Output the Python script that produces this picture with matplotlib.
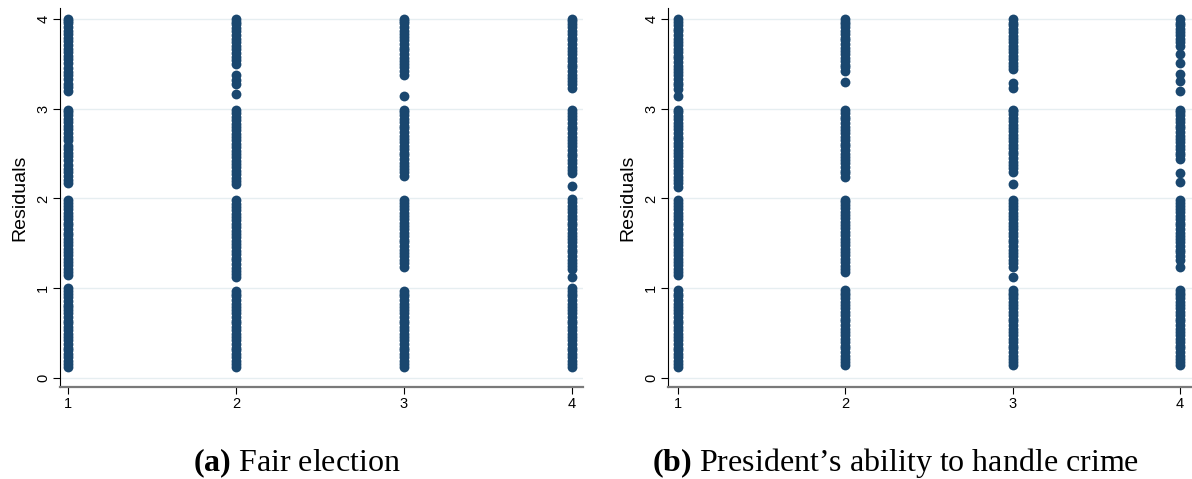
import matplotlib.pyplot as plt

plt.rcParams['font.family'] = ['Liberation Sans', 'DejaVu Sans']
plt.rcParams['mathtext.fontset'] = 'custom'
plt.rcParams['mathtext.rm'] = 'Liberation Serif'
plt.rcParams['mathtext.bf'] = 'Liberation Serif:bold'

categories = [1, 2, 3, 4]
yticks = [0, 1, 2, 3, 4]

# (a) Fair election: residuals by response category
fair_1 = [0.12, 0.16, 0.19, 0.23, 0.27, 0.31, 0.34, 0.38, 0.42, 0.46, 0.49, 0.53, 0.57, 0.61,
          0.64, 0.68, 0.72, 0.76, 0.79, 0.81, 0.86, 0.90, 0.94, 0.97, 1.00,
          1.15, 1.18, 1.22, 1.26, 1.29, 1.33, 1.37, 1.40, 1.44, 1.48, 1.51, 1.55, 1.59, 1.62,
          1.66, 1.70, 1.73, 1.77, 1.81, 1.84, 1.88, 1.92, 1.95, 1.98,
          2.17, 2.21, 2.25, 2.29, 2.33, 2.37, 2.43, 2.47, 2.51, 2.55, 2.59, 2.65, 2.69, 2.73,
          2.77, 2.81, 2.85, 2.89, 2.93, 2.96, 2.99,
          3.20, 3.24, 3.28, 3.33, 3.37, 3.41, 3.45, 3.51, 3.55, 3.59, 3.63, 3.67, 3.71, 3.75,
          3.79, 3.83, 3.87, 3.91, 3.95, 3.98, 4.00]
fair_2 = [0.12, 0.16, 0.19, 0.23, 0.27, 0.31, 0.34, 0.38, 0.42, 0.46, 0.49, 0.53, 0.57, 0.61,
          0.64, 0.68, 0.72, 0.76, 0.79, 0.83, 0.87, 0.91, 0.94, 0.97,
          1.12, 1.16, 1.19, 1.23, 1.27, 1.31, 1.34, 1.38, 1.42, 1.46, 1.49, 1.53, 1.57, 1.61,
          1.64, 1.68, 1.72, 1.76, 1.79, 1.83, 1.87, 1.91, 1.94, 1.98,
          2.16, 2.20, 2.23, 2.27, 2.31, 2.35, 2.38, 2.42, 2.46, 2.50, 2.53, 2.57, 2.61, 2.65,
          2.68, 2.72, 2.76, 2.80, 2.83, 2.87, 2.91, 2.95, 2.99,
          3.16, 3.28, 3.32, 3.37,
          3.50, 3.54, 3.58, 3.62, 3.66, 3.70, 3.74, 3.78, 3.82, 3.86, 3.90, 3.94, 3.97, 4.00]
fair_3 = [0.12, 0.16, 0.19, 0.23, 0.27, 0.31, 0.34, 0.38, 0.42, 0.46, 0.49, 0.53, 0.57, 0.61,
          0.64, 0.68, 0.72, 0.76, 0.79, 0.83, 0.87, 0.91, 0.94, 0.97,
          1.24, 1.28, 1.32, 1.36, 1.39, 1.43, 1.47, 1.51, 1.54, 1.58, 1.62, 1.66, 1.69, 1.73,
          1.77, 1.81, 1.84, 1.88, 1.92, 1.95, 1.98,
          2.25, 2.29, 2.33, 2.36, 2.40, 2.44, 2.48, 2.51, 2.55, 2.59, 2.63, 2.66, 2.70, 2.74,
          2.78, 2.81, 2.85, 2.89, 2.93, 2.96, 2.99,
          3.14,
          3.38, 3.42, 3.46, 3.50, 3.53, 3.57, 3.61, 3.65, 3.68, 3.72, 3.76, 3.80, 3.83, 3.87,
          3.91, 3.95, 3.98, 4.00]
fair_4 = [0.12, 0.16, 0.19, 0.23, 0.27, 0.31, 0.34, 0.38, 0.42, 0.46, 0.49, 0.53, 0.57, 0.61,
          0.64, 0.68, 0.72, 0.76, 0.79, 0.83, 0.87, 0.91, 0.94, 0.97, 1.00,
          1.12, 1.21, 1.25, 1.28, 1.32, 1.36, 1.40, 1.43, 1.47, 1.51, 1.55, 1.58, 1.62, 1.66,
          1.70, 1.73, 1.77, 1.81, 1.85, 1.88, 1.92, 1.96, 1.99,
          2.14, 2.28, 2.32, 2.35, 2.39, 2.43, 2.47, 2.50, 2.54, 2.58, 2.62, 2.65, 2.69, 2.73,
          2.77, 2.80, 2.84, 2.88, 2.92, 2.95, 2.99,
          3.23, 3.27, 3.31, 3.34, 3.38, 3.42, 3.46, 3.49, 3.53, 3.57, 3.61, 3.64, 3.68, 3.72,
          3.76, 3.79, 3.83, 3.87, 3.91, 3.94, 3.98, 4.00]

# (b) President's ability to handle crime
crime_1 = [0.12, 0.16, 0.19, 0.23, 0.27, 0.31, 0.34, 0.38, 0.42, 0.46, 0.49, 0.53, 0.57, 0.61,
           0.64, 0.68, 0.72, 0.76, 0.79, 0.83, 0.87, 0.91, 0.94, 0.98,
           1.15, 1.18, 1.22, 1.26, 1.29, 1.33, 1.37, 1.40, 1.44, 1.48, 1.51, 1.55, 1.59, 1.62,
           1.66, 1.70, 1.73, 1.77, 1.81, 1.84, 1.88, 1.92, 1.95, 1.98,
           2.13, 2.17, 2.21, 2.24, 2.28, 2.32, 2.36, 2.39, 2.43, 2.47, 2.51, 2.54, 2.58, 2.62,
           2.66, 2.69, 2.73, 2.77, 2.81, 2.84, 2.88, 2.92, 2.96, 2.99,
           3.14, 3.22, 3.26, 3.29, 3.33, 3.37, 3.41, 3.44, 3.48, 3.52, 3.56, 3.59, 3.63, 3.67,
           3.71, 3.74, 3.78, 3.82, 3.86, 3.89, 3.93, 3.97, 4.00]
crime_2 = [0.14, 0.18, 0.21, 0.25, 0.29, 0.33, 0.36, 0.40, 0.44, 0.48, 0.51, 0.55, 0.59, 0.63,
           0.66, 0.70, 0.74, 0.78, 0.81, 0.85, 0.89, 0.92, 0.95, 0.98,
           1.18, 1.22, 1.25, 1.29, 1.33, 1.37, 1.40, 1.44, 1.48, 1.52, 1.55, 1.59, 1.63, 1.67,
           1.70, 1.74, 1.78, 1.82, 1.85, 1.89, 1.93, 1.96, 1.98,
           2.24, 2.28, 2.31, 2.35, 2.39, 2.43, 2.46, 2.50, 2.54, 2.58, 2.61, 2.65, 2.69, 2.73,
           2.76, 2.80, 2.84, 2.88, 2.91, 2.95, 2.99,
           3.30, 3.42, 3.46, 3.49, 3.53, 3.57, 3.61, 3.64, 3.68, 3.72, 3.76, 3.79, 3.83, 3.87,
           3.91, 3.94, 3.97, 4.00]
crime_3 = [0.14, 0.18, 0.21, 0.25, 0.29, 0.33, 0.36, 0.40, 0.44, 0.48, 0.51, 0.55, 0.59, 0.63,
           0.66, 0.70, 0.74, 0.78, 0.81, 0.85, 0.89, 0.92, 0.95, 0.98,
           1.13, 1.24, 1.28, 1.32, 1.36, 1.39, 1.43, 1.47, 1.51, 1.54, 1.58, 1.62, 1.66, 1.69,
           1.73, 1.77, 1.81, 1.84, 1.88, 1.92, 1.95, 1.98,
           2.16, 2.30, 2.34, 2.37, 2.41, 2.45, 2.49, 2.52, 2.56, 2.60, 2.64, 2.67, 2.71, 2.75,
           2.79, 2.82, 2.86, 2.90, 2.94, 2.97, 2.99,
           3.23, 3.29, 3.44, 3.48, 3.51, 3.55, 3.59, 3.63, 3.66, 3.70, 3.74, 3.78, 3.81, 3.85,
           3.89, 3.93, 3.96, 4.00]
crime_4 = [0.14, 0.18, 0.21, 0.25, 0.29, 0.33, 0.36, 0.40, 0.44, 0.48, 0.51, 0.55, 0.59, 0.63,
           0.66, 0.70, 0.74, 0.78, 0.81, 0.85, 0.89, 0.92, 0.95, 0.98,
           1.24, 1.31, 1.36, 1.40, 1.43, 1.47, 1.51, 1.55, 1.58, 1.62, 1.66, 1.70, 1.73, 1.77,
           1.81, 1.85, 1.88, 1.92, 1.95, 1.98,
           2.18, 2.28, 2.44, 2.48, 2.51, 2.55, 2.59, 2.63, 2.66, 2.70, 2.74, 2.78, 2.81, 2.85,
           2.89, 2.93, 2.96, 2.99,
           3.20, 3.31, 3.39, 3.51, 3.61, 3.70, 3.74, 3.78, 3.82, 3.85, 3.89, 3.93, 3.96, 4.00]

fair = [fair_1, fair_2, fair_3, fair_4]
crime = [crime_1, crime_2, crime_3, crime_4]

captions = [r"$\bf{(a)}$ Fair election", r"$\bf{(b)}$ President’s ability to handle crime"]

navy = '#1a476f'
grid_col = '#e6eef1'

fig = plt.figure(figsize=(11.92, 4.79), dpi=100)
ax1 = fig.add_axes([0.0503, 0.192, 0.4387, 0.791])
ax2 = fig.add_axes([0.5604, 0.192, 0.4396, 0.791])

for ax, groups, xlim in [(ax1, fair, (0.952, 4.065)), (ax2, crime, (0.94, 4.072))]:
    for cat, vals in zip(categories, groups):
        ax.scatter([cat] * len(vals), vals, s=50, color=navy, linewidths=0, zorder=3)
    ax.set_xlim(*xlim)
    ax.set_ylim(-0.1, 4.12)
    ax.set_xticks(categories)
    ax.set_yticks(yticks)
    ax.set_yticklabels([str(t) for t in yticks], rotation=90, va='center')
    ax.grid(axis='y', color=grid_col, linewidth=1, zorder=0)
    ax.spines['top'].set_visible(False)
    ax.spines['right'].set_visible(False)
    ax.spines['left'].set_color('black')
    ax.spines['bottom'].set_color('#7a7a7a')
    ax.spines['bottom'].set_linewidth(1.6)
    ax.tick_params(axis='both', labelsize=10.5, length=5, width=0.8, pad=2)
    ax.set_ylabel("Residuals", fontsize=14, labelpad=6)

fig.text(0.249, 0.033, captions[0], fontsize=23, family='Liberation Serif', ha='center', va='center')
fig.text(0.751, 0.033, captions[1], fontsize=23, family='Liberation Serif', ha='center', va='center')

fig.savefig('out.png', dpi=100)
